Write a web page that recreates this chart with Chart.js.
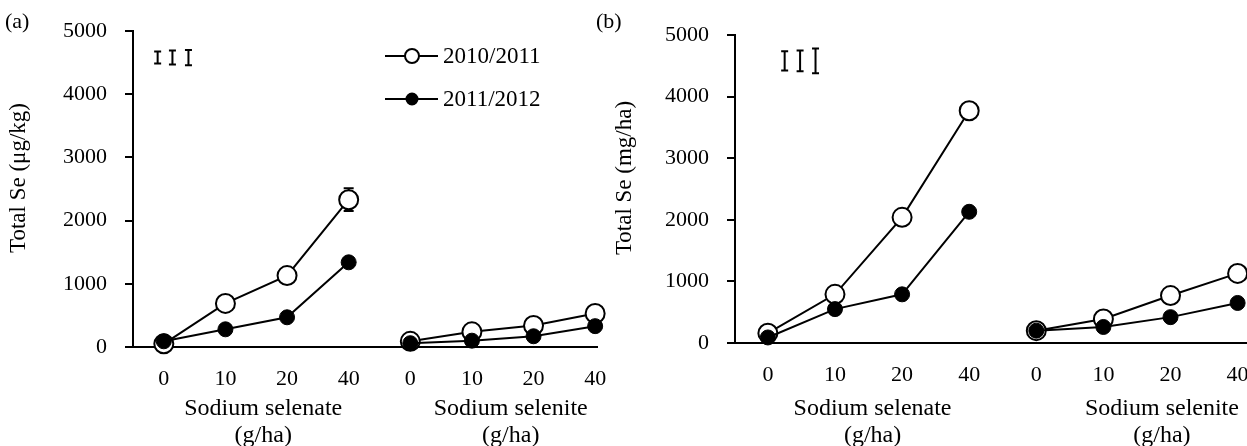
<!DOCTYPE html>
<html>
<head>
<meta charset="utf-8">
<script src="https://cdn.jsdelivr.net/npm/chart.js@4.4.0/dist/chart.umd.min.js"></script>
<style>
  html, body { margin: 0; padding: 0; background: #fff; overflow: hidden; }
  #chartA { position: absolute; left: 0; top: 0; }
  #chartB { position: absolute; left: 585px; top: 0; }
</style>
</head>
<body>
<canvas id="chartA" width="610" height="446"></canvas>
<canvas id="chartB" width="662" height="446"></canvas>
<script>
// x tick labels: Se dose (g/ha) for the two fertiliser forms
var doseLabels = ['0', '10', '20', '40', '0', '10', '20', '40'];
var groupNames = ['Sodium selenate', 'Sodium selenite'];
var groupUnit = '(g/ha)';
var seasons = ['2010/2011', '2011/2012'];
var yTicks = [0, 1000, 2000, 3000, 4000, 5000];

// (a) total Se in grain, ug/kg
var concA_1011 = [50, 690, 1130, 2330, 90, 240, 340, 530];
var concA_1112 = [90, 280, 470, 1340, 60, 100, 170, 330];
var concA_err1011 = [0, 0, 0, 180, 0, 0, 0, 0];

// (b) total Se uptake, mg/ha
var uptB_1011 = [160, 790, 2040, 3770, 200, 390, 770, 1130];
var uptB_1112 = [90, 550, 790, 2130, 200, 260, 420, 650];

// LSD bars shown top left of each panel
var lsdA = [190, 220, 240];
var lsdB = [310, 340, 405];
var lsdXA = [-0.1, 0.14, 0.4];
var lsdXB = [0.25, 0.48, 0.71];
var lsdCenter = 4580;

function serif(size) {
  return size + 'px "Liberation Serif", "Times New Roman", serif';
}

function toXY(vals) {
  return vals.map(function (v, i) { return { x: i, y: v }; });
}

// no line between the last selenate point and the first selenite point
function gapSeg(ctx) {
  return ctx.p0DataIndex === 3 ? 'rgba(0,0,0,0)' : undefined;
}

function seasonSets(v1011, v1112) {
  return [
    {
      label: seasons[0], data: toXY(v1011),
      borderColor: '#000', borderWidth: 2,
      pointRadius: 9.5, pointBorderWidth: 2,
      pointBackgroundColor: '#fff', pointBorderColor: '#000',
      segment: { borderColor: gapSeg }, clip: false, order: 1
    },
    {
      label: seasons[1], data: toXY(v1112),
      borderColor: '#000', borderWidth: 2,
      pointRadius: 7.5, pointBorderWidth: 1,
      pointBackgroundColor: '#000', pointBorderColor: '#000',
      segment: { borderColor: gapSeg }, clip: false, order: 0
    }
  ];
}

function drawIBeam(ctx, x, yTop, yBot, half) {
  ctx.beginPath();
  ctx.moveTo(x, yTop); ctx.lineTo(x, yBot);
  ctx.moveTo(x - half, yTop); ctx.lineTo(x + half, yTop);
  ctx.moveTo(x - half, yBot); ctx.lineTo(x + half, yBot);
  ctx.stroke();
}

var extras = {
  id: 'extras',
  beforeDatasetsDraw: function (chart, args, o) {
    if (!o.err) return;
    var ctx = chart.ctx, xs = chart.scales.x, ys = chart.scales.y;
    var vals = chart.data.datasets[0].data;
    ctx.save();
    ctx.strokeStyle = '#000';
    ctx.lineWidth = 2;
    o.err.forEach(function (e, i) {
      if (!e) return;
      var x = xs.getPixelForValue(i);
      drawIBeam(ctx, x, ys.getPixelForValue(vals[i].y + e), ys.getPixelForValue(vals[i].y - e), 5);
    });
    ctx.restore();
  },
  afterDraw: function (chart, args, o) {
    var ctx = chart.ctx, xs = chart.scales.x, ys = chart.scales.y;
    ctx.save();
    ctx.fillStyle = '#000';
    ctx.strokeStyle = '#000';

    // panel letter
    ctx.font = serif(22);
    ctx.textAlign = 'left';
    ctx.textBaseline = 'middle';
    ctx.fillText(o.panel, o.panelX, 22);

    // y title
    ctx.save();
    ctx.font = serif(23);
    ctx.translate(o.titleX, 178);
    ctx.rotate(-Math.PI / 2);
    ctx.textAlign = 'center';
    ctx.fillText(o.yTitle, 0, 0);
    ctx.restore();

    // group names under the dose ticks
    ctx.font = serif(24);
    ctx.textAlign = 'center';
    [1.5, 5.5].forEach(function (mid, g) {
      var x = xs.getPixelForValue(mid) + o.groupShift[g];
      ctx.fillText(groupNames[g], x, 409);
      ctx.fillText(groupUnit, x, 436);
    });

    // LSD bars
    ctx.lineWidth = 2;
    o.lsd.forEach(function (h, i) {
      var x = xs.getPixelForValue(o.lsdX[i]);
      drawIBeam(ctx, x, ys.getPixelForValue(lsdCenter + h / 2), ys.getPixelForValue(lsdCenter - h / 2), 3.5);
    });

    // legend
    if (o.legend) {
      var rows = [56, 99];
      chart.data.datasets.forEach(function (ds, i) {
        var y = rows[i];
        ctx.lineWidth = 2;
        ctx.beginPath();
        ctx.moveTo(385, y); ctx.lineTo(438, y);
        ctx.stroke();
        ctx.beginPath();
        ctx.arc(412, y, i === 0 ? 7 : 5.5, 0, Math.PI * 2);
        ctx.fillStyle = ds.pointBackgroundColor;
        ctx.fill();
        ctx.stroke();
        ctx.fillStyle = '#000';
        ctx.font = serif(23);
        ctx.textAlign = 'left';
        ctx.fillText(ds.label, 443, y + 1);
      });
    }
    ctx.restore();
  }
};

function makeOptions(cfg) {
  return {
    responsive: false,
    animation: false,
    layout: { autoPadding: false, padding: { left: 0, top: cfg.top, right: cfg.right, bottom: 0 } },
    plugins: {
      legend: { display: false },
      tooltip: { enabled: false },
      extras: cfg.extras
    },
    scales: {
      x: {
        type: 'linear', min: cfg.xMin, max: cfg.xMax,
        afterBuildTicks: function (s) {
          s.ticks = doseLabels.map(function (l, i) { return { value: i }; });
        },
        afterFit: function (s) { s.height = cfg.xHeight; s.paddingLeft = 0; s.paddingRight = 0; },
        grid: { display: true, drawOnChartArea: false, drawTicks: false },
        border: { display: true, color: '#000', width: 2 },
        ticks: {
          color: '#000', font: { family: '"Liberation Serif", serif', size: 22 },
          padding: 19, maxRotation: 0, autoSkip: false,
          callback: function (v) { return doseLabels[v]; }
        }
      },
      y: {
        min: 0, max: 5000,
        afterBuildTicks: function (s) {
          s.ticks = yTicks.map(function (v) { return { value: v }; });
        },
        afterFit: function (s) { s.width = cfg.yWidth; s.paddingTop = 0; s.paddingBottom = 0; },
        grid: { drawOnChartArea: false, drawTicks: true, tickLength: 8, color: '#000', lineWidth: 2 },
        border: { display: true, color: '#000', width: 2 },
        ticks: {
          color: '#000', font: { family: '"Liberation Serif", serif', size: 22 },
          padding: 18,
          callback: function (v) { return String(v); }
        }
      }
    }
  };
}

new Chart(document.getElementById('chartA'), {
  type: 'line',
  data: { datasets: seasonSets(concA_1011, concA_1112) },
  options: makeOptions({
    top: 31, right: 13, xHeight: 99, yWidth: 133, xMin: -0.5, xMax: 7.03,
    extras: {
      panel: '(a)', panelX: 5, titleX: 19, yTitle: 'Total Se (\u03bcg/kg)',
      groupShift: [7, 8], lsd: lsdA, lsdX: lsdXA, legend: true, err: concA_err1011
    }
  }),
  plugins: [extras]
});

new Chart(document.getElementById('chartB'), {
  type: 'line',
  data: { datasets: seasonSets(uptB_1011, uptB_1112) },
  options: makeOptions({
    top: 35, right: 0, xHeight: 103, yWidth: 150, xMin: -0.49, xMax: 7.14,
    extras: {
      panel: '(b)', panelX: 11, titleX: 40, yTitle: 'Total Se (mg/ha)',
      groupShift: [4, 25], lsd: lsdB, lsdX: lsdXB, legend: false, err: null
    }
  }),
  plugins: [extras]
});
</script>
</body>
</html>
